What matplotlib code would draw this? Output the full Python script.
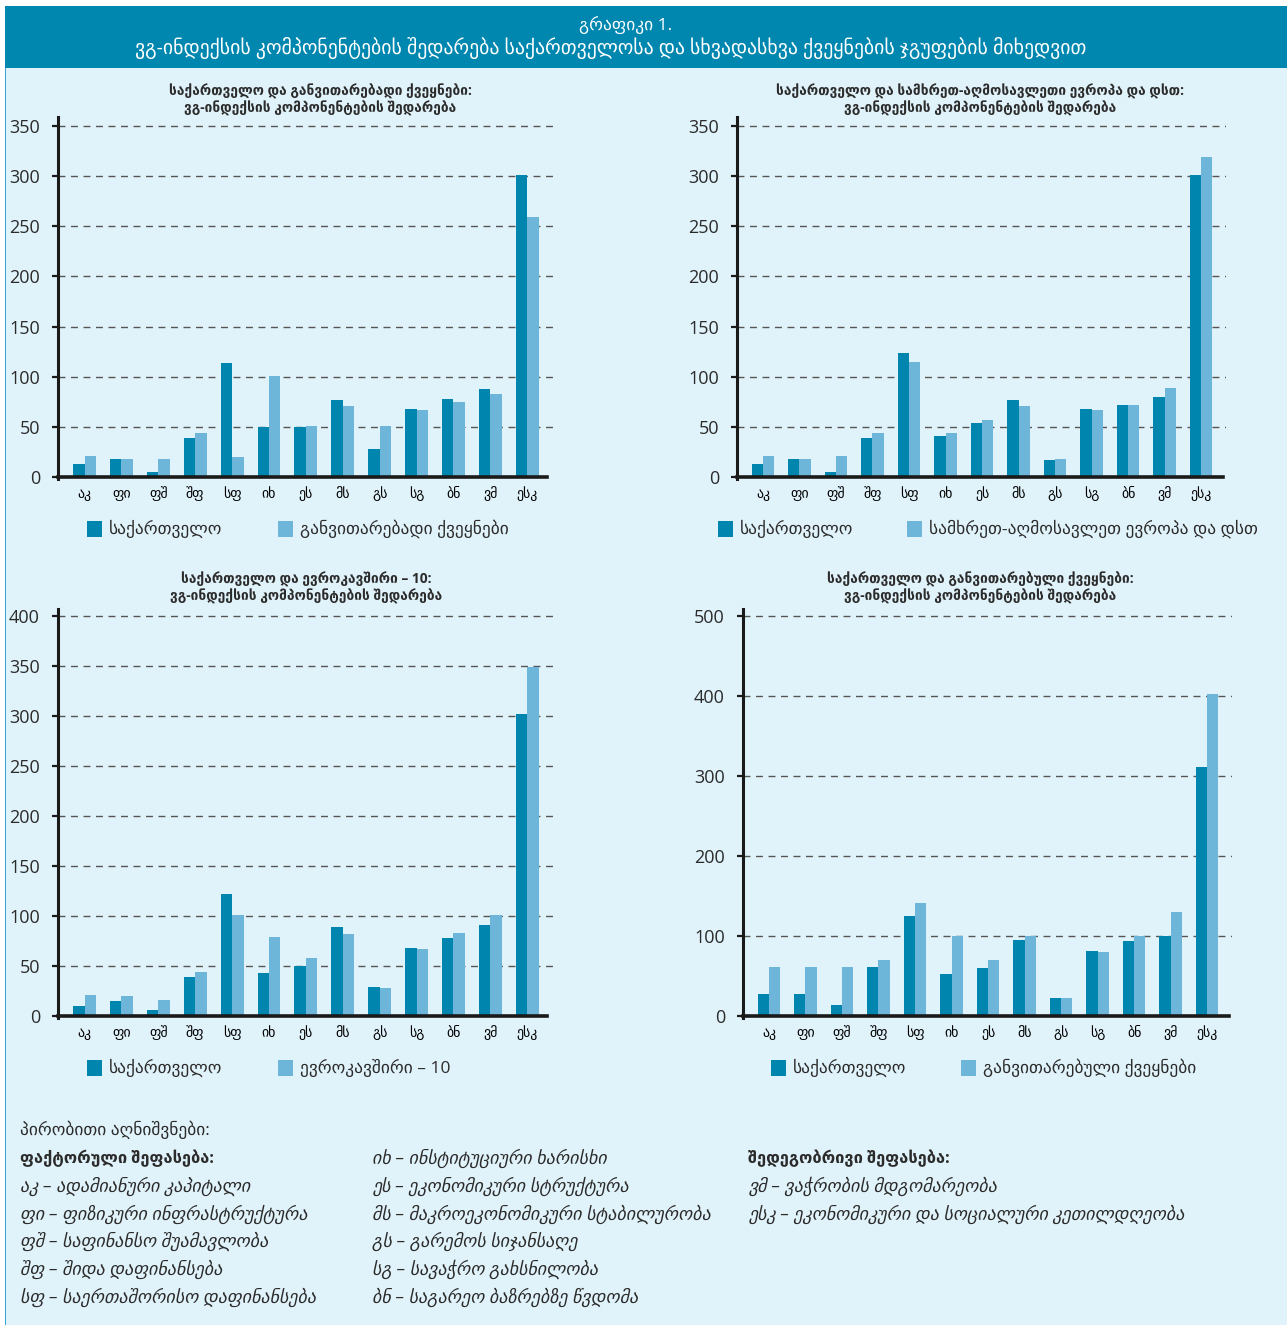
import matplotlib
matplotlib.use('Agg')
import matplotlib.pyplot as plt
from matplotlib.patches import Rectangle
import numpy as np

plt.rcParams['font.family'] = ['Open Sans', 'DejaVu Sans']

W, H = 1287, 1325

# ---------------- data ----------------
categories = ['აკ', 'ფი', 'ფშ', 'შფ', 'სფ', 'იხ', 'ეს', 'მს', 'გს', 'სგ', 'ბნ', 'ვმ', 'ესკ']

georgia_1 = [13, 18, 5, 39, 114, 50, 50, 77, 28, 68, 78, 88, 301]
developing = [21, 18, 18, 44, 20, 101, 51, 71, 51, 67, 75, 83, 259]

georgia_2 = [13, 18, 5, 39, 124, 41, 54, 77, 17, 68, 72, 80, 301]
see_cis = [21, 18, 21, 44, 115, 44, 57, 71, 18, 67, 72, 89, 319]

georgia_3 = [10, 15, 6, 39, 122, 43, 50, 89, 29, 68, 78, 91, 302]
eu10 = [21, 20, 16, 44, 101, 79, 58, 82, 28, 67, 83, 101, 349]

georgia_4 = [28, 28, 14, 61, 125, 52, 60, 95, 22, 81, 94, 100, 311]
developed = [61, 61, 61, 70, 141, 100, 70, 100, 22, 80, 100, 130, 403]

yticks_1 = [0, 50, 100, 150, 200, 250, 300, 350]
yticks_3 = [0, 50, 100, 150, 200, 250, 300, 350, 400]
yticks_4 = [0, 100, 200, 300, 400, 500]

header_title = 'გრაფიკი 1.'
header_subtitle = 'ვგ-ინდექსის კომპონენტების შედარება საქართველოსა და სხვადასხვა ქვეყნების ჯგუფების მიხედვით'

subtitle_common = 'ვგ-ინდექსის კომპონენტების შედარება'
panel_titles = ['საქართველო და განვითარებადი ქვეყნები:',
                'საქართველო და სამხრეთ-აღმოსავლეთი ევროპა და დსთ:',
                'საქართველო და ევროკავშირი – 10:',
                'საქართველო და განვითარებული ქვეყნები:']
label_georgia = 'საქართველო'
label_others = ['განვითარებადი ქვეყნები',
                'სამხრეთ-აღმოსავლეთ ევროპა და დსთ',
                'ევროკავშირი – 10',
                'განვითარებული ქვეყნები']

notes_head = 'პირობითი აღნიშვნები:'
notes_factor_head = 'ფაქტორული შეფასება:'
notes_col1 = ['აკ – ადამიანური კაპიტალი',
              'ფი – ფიზიკური ინფრასტრუქტურა',
              'ფშ – საფინანსო შუამავლობა',
              'შფ – შიდა დაფინანსება',
              'სფ – საერთაშორისო დაფინანსება']
notes_col2 = ['იხ – ინსტიტუციური ხარისხი',
              'ეს – ეკონომიკური სტრუქტურა',
              'მს – მაკროეკონომიკური სტაბილურობა',
              'გს – გარემოს სიჯანსაღე',
              'სგ – სავაჭრო გახსნილობა',
              'ბნ – საგარეო ბაზრებზე წვდომა']
notes_result_head = 'შედეგობრივი შეფასება:'
notes_col3 = ['ვმ – ვაჭრობის მდგომარეობა',
              'ესკ – ეკონომიკური და სოციალური კეთილდღეობა']

# ---------------- style ----------------
C_DARK = '#0085ae'
C_LIGHT = '#6db6d9'
C_BG = '#e1f3fa'
C_HEAD = '#0087b0'
C_TEXT = '#2b2b2b'

fig = plt.figure(figsize=(W / 100, H / 100), dpi=100)
fig.patch.set_facecolor('white')


def fx(x):
    return x / W


def fy(y):
    return 1 - y / H


# background and header
fig.add_artist(Rectangle((fx(5), 0), fx(W) - fx(5), fy(68), transform=fig.transFigure,
                         facecolor=C_BG, edgecolor='none', zorder=0))
fig.add_artist(Rectangle((fx(5), fy(68)), fx(W) - fx(5), fy(6) - fy(68), transform=fig.transFigure,
                         facecolor=C_HEAD, edgecolor='none', zorder=0))
fig.add_artist(Rectangle((fx(4.5), 0), fx(1.5), fy(68), transform=fig.transFigure,
                         facecolor='#3aa6d3', edgecolor='none', zorder=1))
fig.text(fx(626), fy(25), header_title, color='white', fontsize=12.5, ha='center', va='center')
fig.text(fx(611), fy(48), header_subtitle, color='white', fontsize=14.2, ha='center', va='center')


def panel(g, o, other_label, title, box, xlim, ylim, yticks, axis_end, title_x, title_y,
          leg_y, leg1_x, leg2_x):
    l, r, t, b = box
    ax = fig.add_axes([fx(l), fy(b), fx(r) - fx(l), fy(t) - fy(b)])
    ax.set_facecolor('none')
    x = np.arange(len(categories))
    w = 0.31
    ax.bar(x - w / 2, g, width=w, color=C_DARK, zorder=2)
    ax.bar(x + w / 2, o, width=w, color=C_LIGHT, zorder=2)
    ax.set_xlim(*xlim)
    ax.set_ylim(*ylim)
    ax.set_yticks(yticks)
    ax.set_xticks(x)
    ax.set_xticklabels(categories, fontsize=12.5, color=C_TEXT)
    for v in yticks[1:]:
        ax.axhline(v, color='#555555', lw=1.0, ls=(0, (5, 4)), zorder=1)
    for s in ['top', 'right']:
        ax.spines[s].set_visible(False)
    ax.spines['left'].set_linewidth(2.2)
    ax.spines['left'].set_color('#1a1a1a')
    ax.spines['bottom'].set_position(('data', 0))
    ax.spines['bottom'].set_linewidth(2.6)
    ax.spines['bottom'].set_color('#1a1a1a')
    ax.spines['bottom'].set_bounds(xlim[0], axis_end)
    ax.spines['bottom'].set_zorder(3)
    ax.tick_params(axis='y', direction='out', length=4, width=1.6, color='#1a1a1a',
                   labelsize=13, labelcolor=C_TEXT, pad=9)
    ax.tick_params(axis='x', length=0, pad=7)
    fig.text(fx(title_x), fy(title_y), title + '\n' + subtitle_common, fontsize=9.9,
             fontweight='bold', ha='center', va='center', color=C_TEXT, linespacing=1.1)
    for lx, col, lab in [(leg1_x, C_DARK, label_georgia), (leg2_x, C_LIGHT, other_label)]:
        fig.add_artist(Rectangle((fx(lx), fy(leg_y + 8)), fx(15), fy(0) - fy(16),
                                 transform=fig.transFigure, facecolor=col, edgecolor='none'))
        fig.text(fx(lx + 22), fy(leg_y), lab, fontsize=12.5, ha='left', va='center', color=C_TEXT)
    return ax


panel(georgia_1, developing, label_others[0], panel_titles[0],
      (58, 553, 117, 479), (-0.72, 12.7), (-2, 359), yticks_1, 12.55,
      320, 100, 529, 87, 278)
panel(georgia_2, see_cis, label_others[1], panel_titles[1],
      (737, 1226, 117, 479), (-0.71, 12.68), (-2, 359), yticks_1, 12.6,
      980, 100, 529, 718, 907)
panel(georgia_3, eu10, label_others[2], panel_titles[2],
      (58, 553, 609, 1018), (-0.72, 12.7), (-2, 407), yticks_3, 12.55,
      306, 588, 1068, 87, 278)
panel(georgia_4, developed, label_others[3], panel_titles[3],
      (743, 1232, 609, 1018), (-0.71, 12.68), (-2.5, 508.75), yticks_4, 12.6,
      980, 588, 1068, 771, 961)

# notes
fs_it = 13
fig.text(fx(20), fy(1130), notes_head, fontsize=12.5, ha='left', va='center', color=C_TEXT)
fig.text(fx(20), fy(1158), notes_factor_head, fontsize=11.8, fontweight='bold',
         ha='left', va='center', color=C_TEXT)
row_y = [1186, 1214, 1241, 1269, 1297]
for yy, t in zip(row_y, notes_col1):
    fig.text(fx(20), fy(yy), t, fontsize=fs_it, style='italic', ha='left', va='center', color=C_TEXT)
row_y2 = [1158, 1186, 1214, 1241, 1269, 1297]
for yy, t in zip(row_y2, notes_col2):
    fig.text(fx(372), fy(yy), t, fontsize=fs_it, style='italic', ha='left', va='center', color=C_TEXT)
fig.text(fx(748), fy(1158), notes_result_head, fontsize=11.8, fontweight='bold',
         ha='left', va='center', color=C_TEXT)
for yy, t in zip([1186, 1214], notes_col3):
    fig.text(fx(748), fy(yy), t, fontsize=fs_it, style='italic', ha='left', va='center', color=C_TEXT)

fig.savefig('out.png', dpi=100, facecolor=fig.get_facecolor())
